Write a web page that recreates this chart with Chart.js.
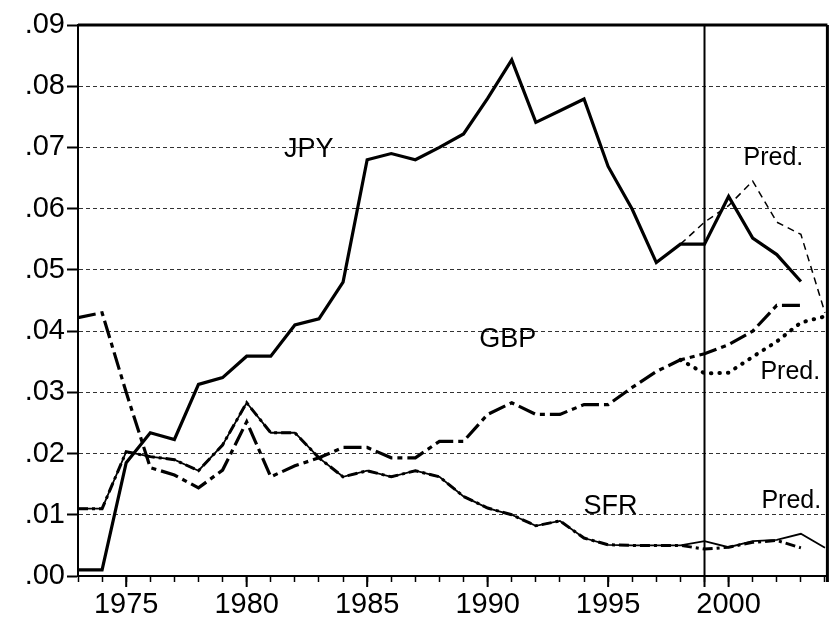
<!DOCTYPE html>
<html><head><meta charset="utf-8">
<script src="https://cdn.jsdelivr.net/npm/chart.js@4/dist/chart.umd.min.js"></script>
<style>html,body{margin:0;padding:0;background:#fff}</style>
</head><body>
<canvas id="c" width="831" height="627"></canvas>
<script>
// ---- data ----
const years = [1973,1974,1975,1976,1977,1978,1979,1980,1981,1982,1983,1984,1985,1986,1987,1988,1989,1990,1991,1992,1993,1994,1995,1996,1997,1998,1999,2000,2001,2002,2003,2004];
const jpy = [.001,.001,.0185,.0234,.0223,.0313,.0324,.0359,.0359,.041,.042,.048,.068,.069,.068,.070,.0722,.078,.0843,.0741,.076,.0779,.0669,.0599,.0512,.0542,.0542,.062,.0552,.0525,.0481];
const gbp = [.0422,.043,.030,.0177,.0165,.0144,.0173,.0252,.0162,.018,.0193,.021,.021,.0193,.0193,.022,.022,.0264,.0283,.0264,.0264,.028,.028,.0308,.0334,.0353,.0363,.0378,.040,.0442,.0442];
const sfr = [.011,.011,.0203,.0195,.019,.0172,.0214,.0283,.0234,.0234,.0193,.0162,.0172,.0162,.0172,.0162,.013,.0111,.010,.0082,.009,.0062,.0051,.005,.005,.005,.0057,.0047,.0057,.0059,.0069,.0046];
const sfrActual = [.011,.011,.0203,.0195,.019,.0172,.0214,.0283,.0234,.0234,.0193,.0162,.0172,.0162,.0172,.0162,.013,.0111,.010,.0082,.009,.0062,.0051,.005,.005,.005,.0044,.0047,.0055,.0058,.0046];
const predYears = [1998,1999,2000,2001,2002,2003,2004];
const jpyPred = [.0542,.0578,.0605,.0645,.0578,.0558,.043];
const gbpPred = [.0353,.0331,.0332,.0358,.0383,.0414,.0424];
const yTickLabels = ['.00','.01','.02','.03','.04','.05','.06','.07','.08','.09'];
const xLabelYears = [1975,1980,1985,1990,1995,2000];
const splitYear = 1999;
const notes = [
  {text:'JPY', x:1982.58, y:.0697},
  {text:'GBP', x:1990.83, y:.0386},
  {text:'SFR', x:1995.1, y:.0114},
  {text:'Pred.', x:2001.86, y:.0683},
  {text:'Pred.', x:2002.56, y:.0333},
  {text:'Pred.', x:2002.6, y:.01225}
];

const pts = (xs, ys) => ys.map((v,i)=>({x:xs[i], y:v}));
const FONT = 'Liberation Sans, Arial, Helvetica, sans-serif';

const decor = {
  id:'decor',
  afterDatasetsDraw(chart){
    const {ctx, chartArea:a, scales:{x,y}} = chart;
    ctx.save();
    ctx.strokeStyle = '#000';
    ctx.lineWidth = 3;
    ctx.beginPath(); ctx.moveTo(a.left, a.top); ctx.lineTo(a.right, a.top); ctx.stroke();
    ctx.beginPath(); ctx.moveTo(a.right, a.top); ctx.lineTo(a.right, a.bottom+6); ctx.stroke();
    ctx.lineWidth = 2;
    const sx = x.getPixelForValue(splitYear);
    ctx.beginPath(); ctx.moveTo(sx, a.top); ctx.lineTo(sx, a.bottom+11); ctx.stroke();
    xLabelYears.forEach(yr=>{
      const px = x.getPixelForValue(yr);
      ctx.beginPath(); ctx.moveTo(px, a.bottom); ctx.lineTo(px, a.bottom+11); ctx.stroke();
    });
    ctx.fillStyle = '#000';
    ctx.textAlign = 'center'; ctx.textBaseline = 'middle';
    notes.forEach(n=>{
      ctx.font = (n.text === 'Pred.' ? '25px ' : '27px ') + FONT;
      ctx.fillText(n.text, x.getPixelForValue(n.x), y.getPixelForValue(n.y));
    });
    ctx.restore();
  }
};

new Chart(document.getElementById('c'), {
  type:'line',
  data:{datasets:[
    {label:'JPY', data:pts(years,jpy), borderColor:'#000', borderWidth:3.2, pointRadius:0, tension:0},
    {label:'JPY Pred.', data:pts(predYears,jpyPred), borderColor:'#000', borderWidth:1.5, borderDash:[7,5], pointRadius:0, tension:0},
    {label:'GBP', data:pts(years,gbp), borderColor:'#000', borderWidth:3.2, borderDash:[18,5,5,5], pointRadius:0, tension:0},
    {label:'GBP Pred.', data:pts(predYears,gbpPred), borderColor:'#000', borderWidth:4, borderDash:[0.5,8], borderCapStyle:'round', pointRadius:0, tension:0},
    {label:'SFR', data:pts(years,sfrActual), borderColor:'#000', borderWidth:3, borderDash:[10,4,3,4], pointRadius:0, tension:0},
    {label:'SFR Pred.', data:pts(years,sfr), borderColor:'#000', borderWidth:1.8, pointRadius:0, tension:0}
  ]},
  options:{
    responsive:false, animation:false, devicePixelRatio:1,
    layout:{padding:{top:25, right:3, left:0, bottom:0}},
    plugins:{legend:{display:false}, tooltip:{enabled:false}},
    scales:{
      x:{type:'linear', min:1973, max:2004.1,
        afterFit(s){ s.height = 51; },
        grid:{drawOnChartArea:false, tickLength:6, tickWidth:1.5, tickColor:'#000'},
        border:{color:'#000', width:2},
        ticks:{stepSize:1, autoSkip:false, maxRotation:0, includeBounds:false, padding:6, color:'#000',
          font:{family:FONT, size:29},
          callback:(v)=> xLabelYears.includes(v) ? String(v) : ''}
      },
      y:{min:0, max:.09,
        afterFit(s){ s.width = 78; },
        grid:{color:'#333', lineWidth:1, tickLength:11, tickWidth:2, tickColor:'#000'},
        border:{color:'#000', width:2, dash:[4,3]},
        ticks:{stepSize:.01, padding:2, color:'#000', font:{family:FONT, size:29},
          callback:(v)=> yTickLabels[Math.round(v*100)]}
      }
    }
  },
  plugins:[decor]
});
</script>
</body></html>
